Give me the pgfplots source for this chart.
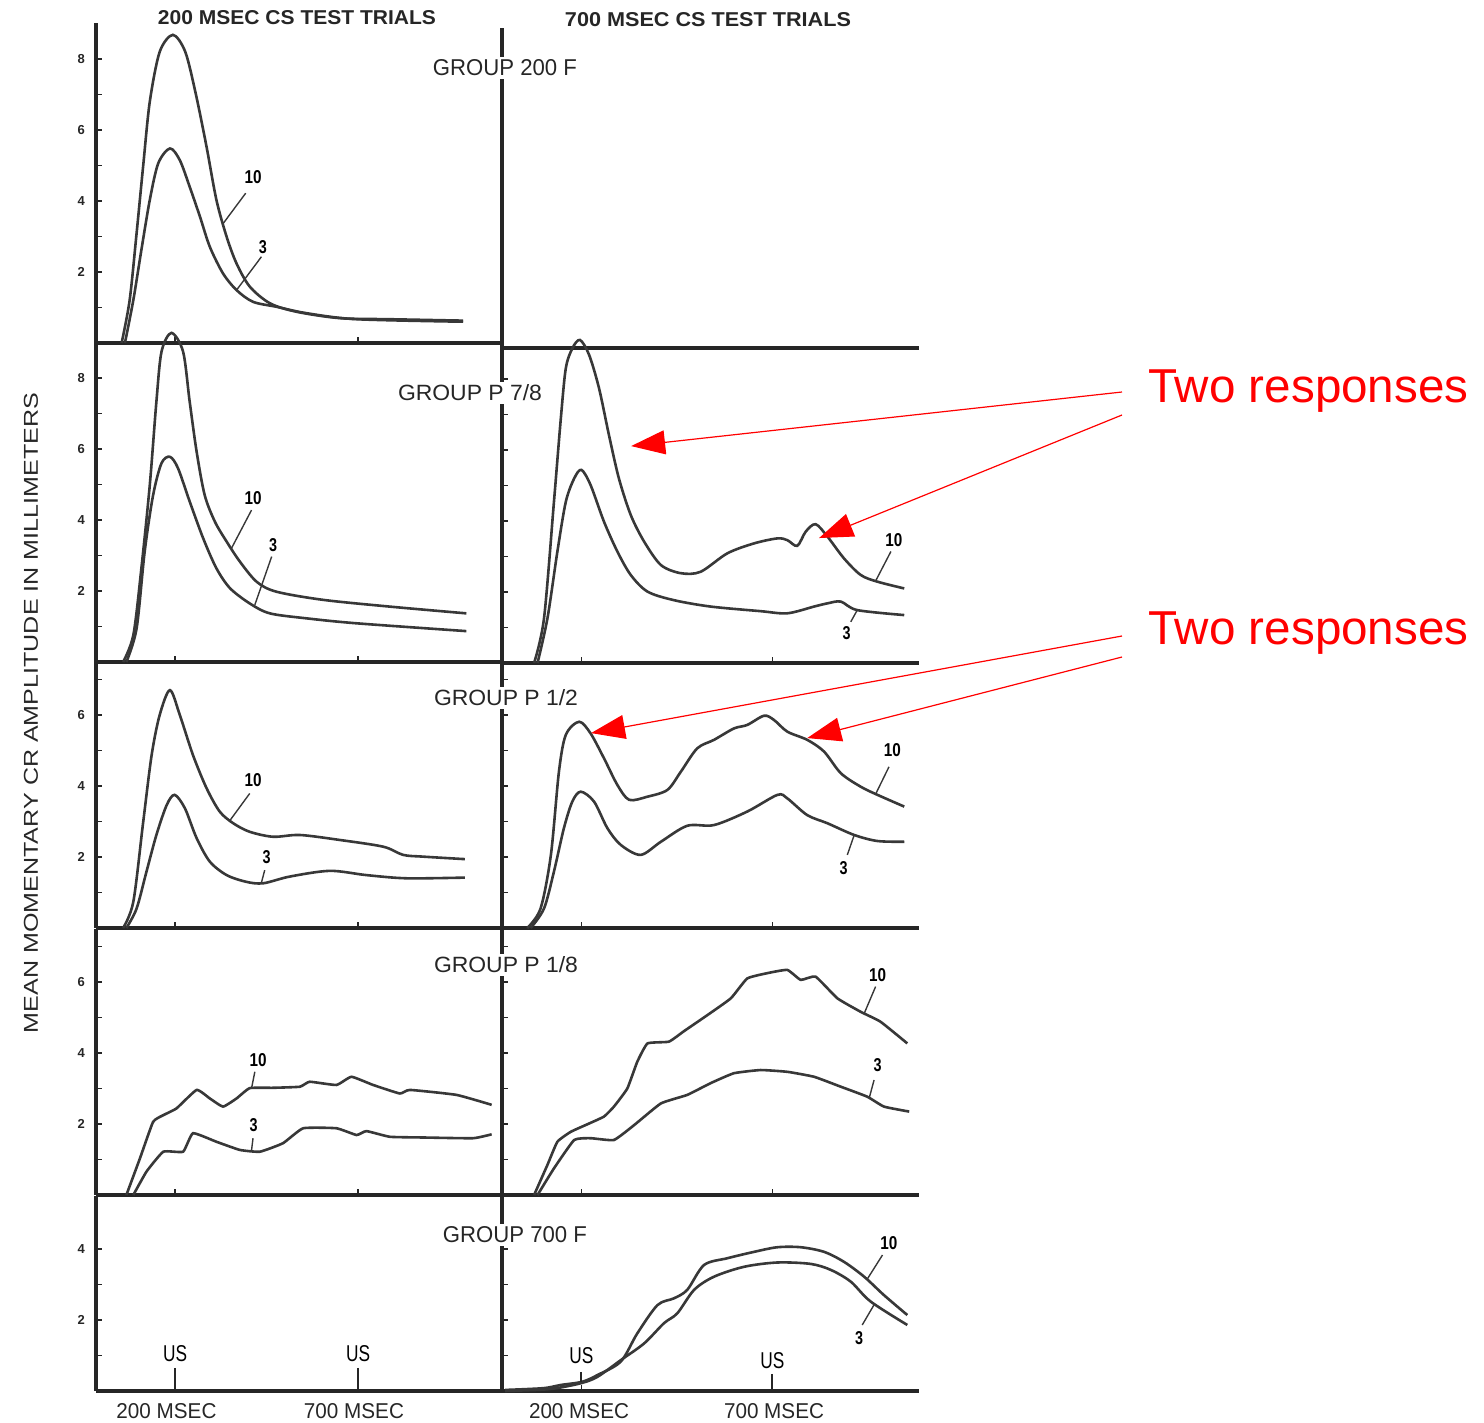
\documentclass[border=0pt]{standalone}
\usepackage{fontspec}
\setmainfont{Liberation Sans}
\usepackage{graphicx}
\usepackage{pgfplots}
\pgfplotsset{compat=1.18}
\usetikzlibrary{arrows.meta}

\definecolor{ink}{HTML}{262626}
\definecolor{curve}{HTML}{383838}
\definecolor{annot}{HTML}{FF0000}

% condensed labels, fixed width x cap height
\newcommand{\ten}{\resizebox{8.5pt}{6.5pt}{\bfseries 10}}
\newcommand{\three}{\resizebox{4pt}{6.5pt}{\bfseries 3}}
\newcommand{\US}{\resizebox{12pt}{8pt}{US}}

\tikzset{
  lead/.style={curve, line width=0.7pt},
  usmark/.style={ink, line width=1pt},
}

\pgfplotsset{
  panel/.style={
    anchor=south west, clip=false,
    axis x line=bottom, axis y line=left,
    axis line style={-, line width=1.6pt, color=ink},
    y=17.75pt, ymin=0,
    xtick={200,700}, xticklabels={},
    tick align=inside,
    major tick length=3pt, minor tick length=3pt,
    every tick/.append style={line width=0.9pt, color=ink},
    yticklabel style={font=\bfseries\fontsize{6.5}{7}\selectfont, color=ink, xshift=-2pt},
    /pgf/number format/assume math mode=true,
  },
  lcol/.style={panel, x=0.183pt, xmin=-16, xmax=1093},
  rcol/.style={panel, x=0.191pt, xmin=-8, xmax=1084, yticklabels={}},
  r9/.style={ymax=9, ytick={2,4,6,8}, minor ytick={1,3,5,7}},
  r75/.style={ymax=7.5, ytick={2,4,6}, minor ytick={1,3,5,7}},
  r55/.style={ymax=5.5, ytick={2,4}, minor ytick={1,3}},
  cv/.style={curve, line width=1.3pt, smooth, tension=0.5, no markers},
  cvj/.style={curve, line width=1.3pt, smooth, tension=0.25, no markers},
}

\begin{document}
\begin{tikzpicture}
\path[use as bounding box] (0pt,0pt) rectangle (742pt,-711.5pt);

% ---------------- GROUP 200 F ----------------
\begin{axis}[lcol, r9, at={(48pt,-171.5pt)}]
\addplot[cv] coordinates {(54,0) (76,1.21) (95,3.1) (113,5.0) (131,6.8) (158,8.2) (194,8.68) (228,8.2) (257,7.0) (286,5.53) (313,4.03) (341,2.99) (368,2.24) (404,1.59) (459,1.12) (532,0.88) (650,0.70) (787,0.67) (987,0.63)};
\addplot[cv] coordinates {(63,0) (86,1.21) (108,2.62) (131,4.03) (154,5.06) (186,5.48) (213,5.15) (240,4.40) (268,3.56) (295,2.71) (331,1.96) (368,1.49) (413,1.16) (477,1.02) (559,0.84) (696,0.67) (987,0.60)};
\draw[lead] (axis cs:393,4.22) -- (axis cs:331,3.36);
\node at (axis cs:413,4.68) {\ten};
\draw[lead] (axis cs:436,2.43) -- (axis cs:368,1.49);
\node at (axis cs:440,2.70) {\three};
\end{axis}
\begin{axis}[rcol, r9, at={(251pt,-174pt)}, xtick=\empty, ytick=\empty, minor ytick=\empty]
\end{axis}

% ---------------- GROUP P 7/8 ----------------
\begin{axis}[lcol, r9, at={(48pt,-331pt)}]
\addplot[cv] coordinates {(58,0) (86,0.76) (108,2.64) (131,4.99) (149,7.33) (163,8.74) (190,9.27) (222,8.74) (240,7.33) (259,5.92) (281,4.70) (309,3.95) (341,3.39) (377,2.83) (423,2.26) (477,1.98) (605,1.75) (787,1.56) (996,1.37)};
\addplot[cv] coordinates {(67,0) (95,0.95) (117,3.11) (140,4.70) (163,5.60) (186,5.78) (208,5.46) (240,4.52) (277,3.48) (313,2.64) (350,2.08) (404,1.65) (459,1.37) (559,1.23) (696,1.09) (996,0.87)};
\draw[lead] (axis cs:409,4.28) -- (axis cs:354,3.20);
\node at (axis cs:413,4.61) {\ten};
\draw[lead] (axis cs:464,2.97) -- (axis cs:418,1.61);
\node at (axis cs:468,3.30) {\three};
\end{axis}
\begin{axis}[rcol, r9, at={(251pt,-331.5pt)}]
\addplot[cv] coordinates {(76,0) (102,1.26) (128,4.54) (146,6.89) (159,8.30) (176,8.86) (196,9.10) (220,8.68) (246,7.74) (272,6.42) (298,5.20) (329,4.17) (364,3.42) (408,2.76) (460,2.53) (512,2.57) (582,3.09) (652,3.37) (713,3.51) (739,3.46) (765,3.30) (787,3.70) (813,3.91) (844,3.56) (887,2.95) (931,2.48) (975,2.29) (1045,2.10)};
\addplot[cv] coordinates {(85,0) (111,1.26) (137,3.14) (159,4.54) (181,5.20) (200,5.44) (224,5.01) (259,3.98) (294,3.14) (329,2.48) (373,2.01) (442,1.77) (538,1.59) (669,1.46) (739,1.40) (809,1.59) (844,1.68) (879,1.73) (922,1.49) (1045,1.35)};
\draw[lead] (axis cs:1010,3.14) -- (axis cs:970,2.31);
\node at (axis cs:1018,3.46) {\ten};
\draw[lead] (axis cs:905,1.16) -- (axis cs:922,1.49);
\node at (axis cs:894,0.84) {\three};
\coordinate (t1) at (axis cs:330,6.11);
\coordinate (t2) at (axis cs:822,3.52);
\end{axis}

% ---------------- GROUP P 1/2 ----------------
\begin{axis}[lcol, r75, at={(48pt,-464pt)}]
\addplot[cv] coordinates {(58,0) (86,0.74) (113,2.99) (136,4.87) (158,6.0) (186,6.70) (213,6.0) (249,4.87) (286,3.94) (322,3.28) (359,2.95) (404,2.71) (468,2.57) (541,2.62) (650,2.48) (769,2.29) (823,2.06) (878,2.01) (992,1.94)};
\addplot[cv] coordinates {(67,0) (95,0.55) (122,1.59) (149,2.62) (177,3.46) (199,3.75) (227,3.37) (259,2.53) (295,1.87) (341,1.49) (395,1.30) (441,1.26) (514,1.45) (623,1.61) (723,1.49) (833,1.40) (992,1.42)};
\draw[lead] (axis cs:404,3.79) -- (axis cs:350,3.03);
\node at (axis cs:413,4.17) {\ten};
\draw[lead] (axis cs:445,1.63) -- (axis cs:436,1.28);
\node at (axis cs:450,2.01) {\three};
\end{axis}
\begin{axis}[rcol, r75, at={(251pt,-464pt)}]
\addplot[cv] coordinates {(58,0) (93,0.55) (120,2.06) (141,4.40) (159,5.44) (194,5.81) (224,5.48) (259,4.78) (294,4.03) (325,3.61) (373,3.70) (425,3.89) (460,4.40) (503,5.06) (547,5.30) (599,5.62) (634,5.72) (678,5.98) (704,5.86) (739,5.53) (791,5.30) (835,4.97) (879,4.36) (931,3.98) (975,3.75) (1045,3.42)};
\addplot[cv] coordinates {(67,0) (102,0.55) (128,1.59) (154,2.81) (176,3.56) (198,3.84) (233,3.56) (268,2.81) (303,2.34) (355,2.06) (408,2.43) (477,2.88) (547,2.90) (634,3.28) (713,3.75) (739,3.65) (791,3.18) (844,2.95) (914,2.62) (975,2.45) (1045,2.43)};
\draw[lead] (axis cs:1005,4.54) -- (axis cs:970,3.77);
\node at (axis cs:1014,5.01) {\ten};
\draw[lead] (axis cs:896,2.06) -- (axis cs:914,2.62);
\node at (axis cs:886,1.68) {\three};
\coordinate (t3) at (axis cs:225,5.49);
\coordinate (t4) at (axis cs:791,5.35);
\end{axis}

% ---------------- GROUP P 1/8 ----------------
\begin{axis}[lcol, r75, at={(48pt,-597.5pt)}]
\addplot[cvj] coordinates {(67,0) (104,1.03) (140,2.06) (168,2.25) (204,2.44) (259,2.96) (295,2.72) (331,2.49) (368,2.72) (404,3.01) (468,3.02) (541,3.05) (568,3.19) (641,3.10) (682,3.33) (741,3.10) (814,2.86) (842,2.96) (969,2.82) (1065,2.54)};
\addplot[cvj] coordinates {(86,0) (122,0.66) (168,1.22) (222,1.22) (249,1.74) (313,1.50) (377,1.27) (432,1.22) (495,1.46) (550,1.88) (641,1.88) (696,1.69) (723,1.80) (787,1.64) (878,1.62) (1014,1.60) (1065,1.71)};
\draw[lead] (axis cs:418,3.47) -- (axis cs:409,3.01);
\node at (axis cs:427,3.80) {\ten};
\draw[lead] (axis cs:413,1.60) -- (axis cs:409,1.26);
\node at (axis cs:415,1.97) {\three};
\end{axis}
\begin{axis}[rcol, r75, at={(251pt,-597.5pt)}]
\addplot[cvj] coordinates {(76,0) (111,0.85) (137,1.50) (172,1.78) (215,1.99) (259,2.21) (285,2.49) (320,3.00) (346,3.75) (373,4.27) (429,4.32) (469,4.62) (530,5.07) (591,5.54) (634,6.10) (687,6.25) (739,6.34) (774,6.06) (813,6.15) (870,5.54) (931,5.16) (983,4.88) (1053,4.27)};
\addplot[cvj] coordinates {(85,0) (128,0.75) (181,1.55) (224,1.60) (285,1.55) (338,1.97) (408,2.58) (477,2.82) (538,3.15) (599,3.43) (669,3.52) (739,3.47) (809,3.33) (879,3.05) (948,2.77) (992,2.49) (1058,2.35)};
\draw[lead] (axis cs:970,5.87) -- (axis cs:940,5.11);
\node at (axis cs:975,6.20) {\ten};
\draw[lead] (axis cs:966,3.24) -- (axis cs:953,2.72);
\node at (axis cs:975,3.66) {\three};
\end{axis}

% ---------------- GROUP 700 F ----------------
\begin{axis}[lcol, r55, at={(48pt,-695.5pt)}]
\node at (axis cs:200,1.04) {\US};
\draw[usmark] (axis cs:200,0.65) -- (axis cs:200,0);
\node at (axis cs:700,1.04) {\US};
\draw[usmark] (axis cs:700,0.65) -- (axis cs:700,0);
\end{axis}
\begin{axis}[rcol, r55, at={(251pt,-695.5pt)}]
\addplot[cv] coordinates {(0,0.03) (100,0.08) (146,0.17) (202,0.26) (242,0.45) (303,0.83) (346,1.62) (399,2.42) (442,2.61) (477,2.85) (521,3.55) (582,3.74) (652,3.92) (713,4.05) (774,4.05) (835,3.92) (887,3.64) (940,3.22) (992,2.70) (1053,2.14)};
\addplot[cv] coordinates {(0,0) (100,0.04) (146,0.10) (202,0.23) (242,0.40) (303,0.87) (364,1.34) (416,1.91) (451,2.19) (495,2.85) (547,3.22) (626,3.50) (713,3.62) (800,3.58) (853,3.41) (905,3.08) (957,2.52) (1053,1.86)};
\draw[lead] (axis cs:988,3.83) -- (axis cs:948,3.15);
\node at (axis cs:1005,4.16) {\ten};
\draw[lead] (axis cs:935,1.86) -- (axis cs:966,2.43);
\node at (axis cs:927,1.48) {\three};
\node at (axis cs:200,0.99) {\US};
\draw[usmark] (axis cs:200,0.54) -- (axis cs:200,0.24);
\node at (axis cs:700,0.87) {\US};
\draw[usmark] (axis cs:700,0.48) -- (axis cs:700,0);
\end{axis}

% ---------------- titles, group names, annotations ----------------
\begin{scope}[x=0.5pt, y=-0.5pt]
\node[ink] at (297,18) {\resizebox{139pt}{7pt}{\bfseries 200 MSEC CS TEST TRIALS}};
\node[ink] at (708,20) {\resizebox{143pt}{7pt}{\bfseries 700 MSEC CS TEST TRIALS}};
\node[ink, rotate=90] at (31,713) {\resizebox{320pt}{7pt}{MEAN MOMENTARY CR AMPLITUDE IN MILLIMETERS}};

\tikzset{grp/.style={fill=white, inner sep=1.5pt, text=ink}}
\node[grp] at (505,68) {\resizebox{72pt}{8pt}{GROUP 200 F}};
\node[grp] at (470,393) {\resizebox{72pt}{8pt}{GROUP P 7/8}};
\node[grp] at (506,698) {\resizebox{72pt}{8pt}{GROUP P 1/2}};
\node[grp] at (506,965) {\resizebox{72pt}{8pt}{GROUP P 1/8}};
\node[grp] at (515,1235) {\resizebox{72pt}{8pt}{GROUP 700 F}};

\node[ink] at (166.5,1411) {\resizebox{50pt}{7.5pt}{200 MSEC}};
\node[ink] at (354,1411) {\resizebox{50pt}{7.5pt}{700 MSEC}};
\node[ink] at (579,1411) {\resizebox{50pt}{7.5pt}{200 MSEC}};
\node[ink] at (774,1411) {\resizebox{50pt}{7.5pt}{700 MSEC}};

\node[annot, anchor=base west, inner sep=0pt, font=\fontsize{23.8}{28}\selectfont] at (1148,402) {Two responses};
\node[annot, anchor=base west, inner sep=0pt, font=\fontsize{23.8}{28}\selectfont] at (1148,644) {Two responses};
\end{scope}

\tikzset{redarrow/.style={annot, line width=0.6pt, -{Triangle[length=17pt,width=12pt]}}}
\draw[redarrow] (561pt,-196pt) -- (t1);
\draw[redarrow] (561pt,-207.5pt) -- (t2);
\draw[redarrow] (561pt,-318pt) -- (t3);
\draw[redarrow] (561pt,-328.5pt) -- (t4);
\end{tikzpicture}
\end{document}
